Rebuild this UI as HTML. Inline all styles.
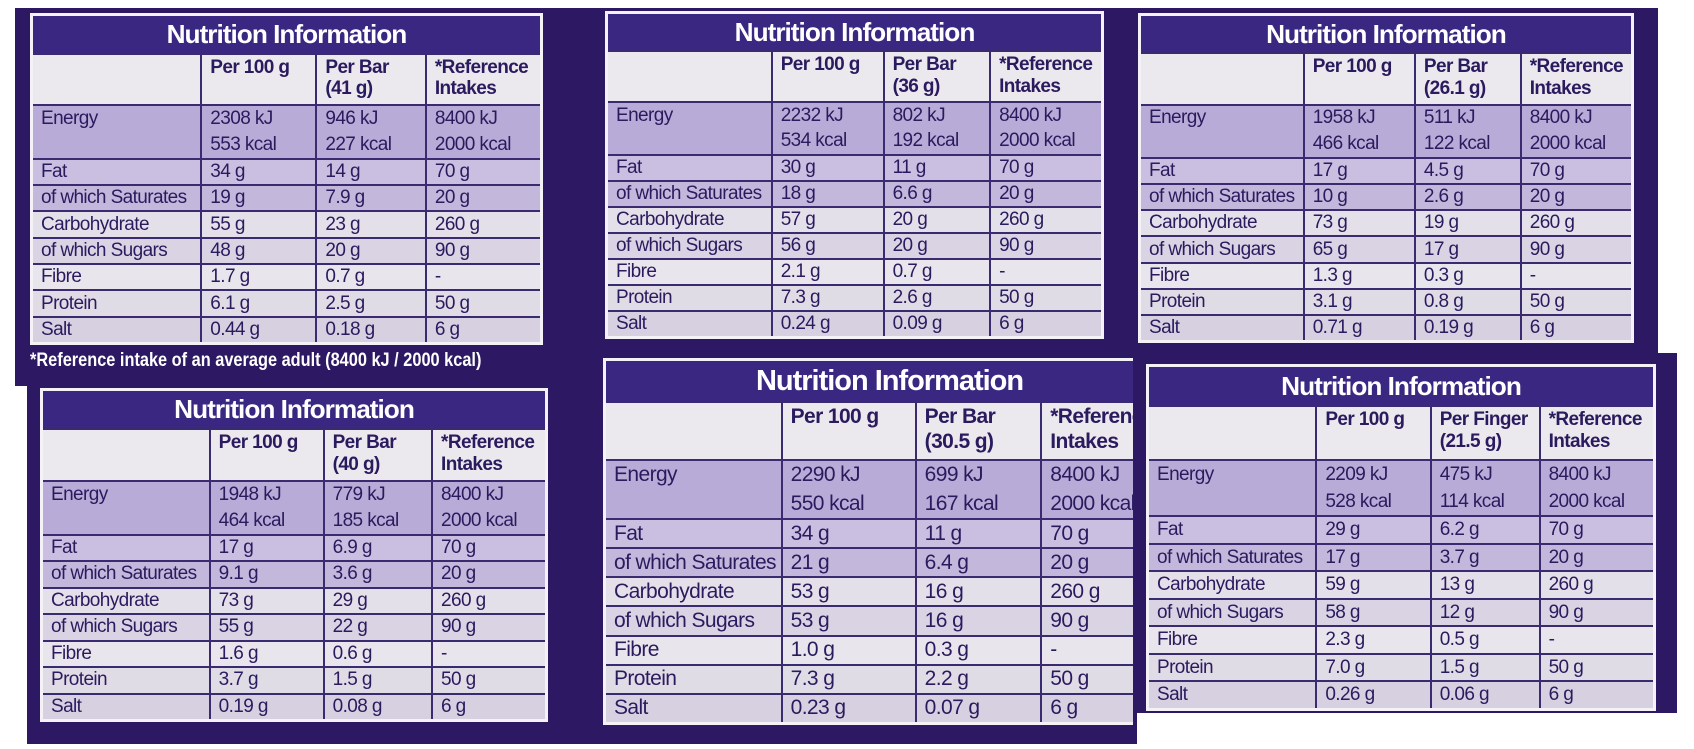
<!DOCTYPE html>
<html><head><meta charset="utf-8"><style>
html,body{margin:0;padding:0;background:#fff;}
body{width:1694px;height:749px;position:relative;overflow:hidden;font-family:"Liberation Sans Narrow","Liberation Sans",sans-serif;}
.bg{position:absolute;background:#2c1863;}
.t{position:absolute;background:#f4f2f6;border:3px solid #f4f2f6;box-sizing:border-box;display:grid;
grid-template-columns:33% 22.7% 21.6% 22.7%;grid-template-rows:34fr 48fr 50fr repeat(7,24.5fr);color:#2a1a5e;font-size:var(--fs);letter-spacing:-0.6px;}
.t>div{box-sizing:border-box;padding-left:8px;border-top:2px solid #3a2a70;overflow:hidden;white-space:nowrap;line-height:1.15;display:flex;align-items:center;}
.t>div.c{border-left:2px solid #3a2a70;}
.t>.ti{grid-column:1/5;background:#3a2782;color:#fff;font-weight:bold;justify-content:center;font-size:calc(var(--fs)*1.38);border-top:none;padding:0;letter-spacing:-1px;}
.t>.h{background:#ebe9ee;align-items:flex-start;padding-top:2px;font-weight:bold;white-space:normal;}
.t>.e{background:#b9abd7;flex-direction:column;align-items:flex-start;justify-content:space-around;}
.t>.l{background:#cabfe1;}
.t>.s{background:#c3b7dc;}
.t>.g{background:#e4e0ea;}
.t>.m{background:#d9d3e4;}
.t>.w{background:#e8e5ec;}
.t>.p{background:#e0dce6;}
.t>.x{background:#d6d0e1;}
.fn{position:absolute;color:#fff;font-weight:bold;font-size:19px;white-space:nowrap;transform:scaleX(0.86);transform-origin:0 0;}
</style></head><body>
<div class="bg" style="left:15px;top:8px;width:1643px;height:350px;"></div>
<div class="bg" style="left:15px;top:350px;width:580px;height:36px;"></div>
<div class="bg" style="left:27px;top:380px;width:1110px;height:364px;"></div>
<div class="bg" style="left:590px;top:353px;width:545px;height:391px;"></div>
<div class="bg" style="left:1130px;top:353px;width:547px;height:360px;"></div>

<div class="t" style="left:30px;top:13px;width:513px;height:332px;--fs:19px;">
<div class="ti">Nutrition Information</div>
<div class="h"></div><div class="h c">Per 100 g</div><div class="h c">Per Bar<br>(41 g)</div><div class="h c">*Reference<br>Intakes</div>
<div class="e">Energy<span>&nbsp;</span></div><div class="e c"><span>2308 kJ</span><span>553 kcal</span></div><div class="e c"><span>946 kJ</span><span>227 kcal</span></div><div class="e c"><span>8400 kJ</span><span>2000 kcal</span></div>
<div class="l">Fat</div><div class="l c">34 g</div><div class="l c">14 g</div><div class="l c">70 g</div>
<div class="s">of which Saturates</div><div class="s c">19 g</div><div class="s c">7.9 g</div><div class="s c">20 g</div>
<div class="g">Carbohydrate</div><div class="g c">55 g</div><div class="g c">23 g</div><div class="g c">260 g</div>
<div class="m">of which Sugars</div><div class="m c">48 g</div><div class="m c">20 g</div><div class="m c">90 g</div>
<div class="w">Fibre</div><div class="w c">1.7 g</div><div class="w c">0.7 g</div><div class="w c">-</div>
<div class="p">Protein</div><div class="p c">6.1 g</div><div class="p c">2.5 g</div><div class="p c">50 g</div>
<div class="x">Salt</div><div class="x c">0.44 g</div><div class="x c">0.18 g</div><div class="x c">6 g</div>
</div>
<div class="fn" style="left:30px;top:350px;">*Reference intake of an average adult (8400 kJ / 2000 kcal)</div>

<div class="t" style="left:605px;top:11px;width:499px;height:328px;--fs:19px;">
<div class="ti">Nutrition Information</div>
<div class="h"></div><div class="h c">Per 100 g</div><div class="h c">Per Bar<br>(36 g)</div><div class="h c">*Reference<br>Intakes</div>
<div class="e">Energy<span>&nbsp;</span></div><div class="e c"><span>2232 kJ</span><span>534 kcal</span></div><div class="e c"><span>802 kJ</span><span>192 kcal</span></div><div class="e c"><span>8400 kJ</span><span>2000 kcal</span></div>
<div class="l">Fat</div><div class="l c">30 g</div><div class="l c">11 g</div><div class="l c">70 g</div>
<div class="s">of which Saturates</div><div class="s c">18 g</div><div class="s c">6.6 g</div><div class="s c">20 g</div>
<div class="g">Carbohydrate</div><div class="g c">57 g</div><div class="g c">20 g</div><div class="g c">260 g</div>
<div class="m">of which Sugars</div><div class="m c">56 g</div><div class="m c">20 g</div><div class="m c">90 g</div>
<div class="w">Fibre</div><div class="w c">2.1 g</div><div class="w c">0.7 g</div><div class="w c">-</div>
<div class="p">Protein</div><div class="p c">7.3 g</div><div class="p c">2.6 g</div><div class="p c">50 g</div>
<div class="x">Salt</div><div class="x c">0.24 g</div><div class="x c">0.09 g</div><div class="x c">6 g</div>
</div>

<div class="t" style="left:1138px;top:13px;width:496px;height:330px;--fs:19px;">
<div class="ti">Nutrition Information</div>
<div class="h"></div><div class="h c">Per 100 g</div><div class="h c">Per Bar<br>(26.1 g)</div><div class="h c">*Reference<br>Intakes</div>
<div class="e">Energy<span>&nbsp;</span></div><div class="e c"><span>1958 kJ</span><span>466 kcal</span></div><div class="e c"><span>511 kJ</span><span>122 kcal</span></div><div class="e c"><span>8400 kJ</span><span>2000 kcal</span></div>
<div class="l">Fat</div><div class="l c">17 g</div><div class="l c">4.5 g</div><div class="l c">70 g</div>
<div class="s">of which Saturates</div><div class="s c">10 g</div><div class="s c">2.6 g</div><div class="s c">20 g</div>
<div class="g">Carbohydrate</div><div class="g c">73 g</div><div class="g c">19 g</div><div class="g c">260 g</div>
<div class="m">of which Sugars</div><div class="m c">65 g</div><div class="m c">17 g</div><div class="m c">90 g</div>
<div class="w">Fibre</div><div class="w c">1.3 g</div><div class="w c">0.3 g</div><div class="w c">-</div>
<div class="p">Protein</div><div class="p c">3.1 g</div><div class="p c">0.8 g</div><div class="p c">50 g</div>
<div class="x">Salt</div><div class="x c">0.71 g</div><div class="x c">0.19 g</div><div class="x c">6 g</div>
</div>

<div class="t" style="left:40px;top:388px;width:508px;height:334px;--fs:19px;">
<div class="ti">Nutrition Information</div>
<div class="h"></div><div class="h c">Per 100 g</div><div class="h c">Per Bar<br>(40 g)</div><div class="h c">*Reference<br>Intakes</div>
<div class="e">Energy<span>&nbsp;</span></div><div class="e c"><span>1948 kJ</span><span>464 kcal</span></div><div class="e c"><span>779 kJ</span><span>185 kcal</span></div><div class="e c"><span>8400 kJ</span><span>2000 kcal</span></div>
<div class="l">Fat</div><div class="l c">17 g</div><div class="l c">6.9 g</div><div class="l c">70 g</div>
<div class="s">of which Saturates</div><div class="s c">9.1 g</div><div class="s c">3.6 g</div><div class="s c">20 g</div>
<div class="g">Carbohydrate</div><div class="g c">73 g</div><div class="g c">29 g</div><div class="g c">260 g</div>
<div class="m">of which Sugars</div><div class="m c">55 g</div><div class="m c">22 g</div><div class="m c">90 g</div>
<div class="w">Fibre</div><div class="w c">1.6 g</div><div class="w c">0.6 g</div><div class="w c">-</div>
<div class="p">Protein</div><div class="p c">3.7 g</div><div class="p c">1.5 g</div><div class="p c">50 g</div>
<div class="x">Salt</div><div class="x c">0.19 g</div><div class="x c">0.08 g</div><div class="x c">6 g</div>
</div>

<div style="position:absolute;left:603px;top:358px;width:530px;height:367px;overflow:hidden;">
<div class="t" style="left:0;top:0;width:660px;height:367px;--fs:21px;grid-template-columns:26.7% 20.5% 19.2% 33.6%;">
<div class="ti" style="justify-content:flex-start;padding-left:150px;">Nutrition Information</div>
<div class="h"></div><div class="h c">Per 100 g</div><div class="h c">Per Bar<br>(30.5 g)</div><div class="h c">*Reference<br>Intakes</div>
<div class="e">Energy<span>&nbsp;</span></div><div class="e c"><span>2290 kJ</span><span>550 kcal</span></div><div class="e c"><span>699 kJ</span><span>167 kcal</span></div><div class="e c"><span>8400 kJ</span><span>2000 kcal</span></div>
<div class="l">Fat</div><div class="l c">34 g</div><div class="l c">11 g</div><div class="l c">70 g</div>
<div class="s">of which Saturates</div><div class="s c">21 g</div><div class="s c">6.4 g</div><div class="s c">20 g</div>
<div class="g">Carbohydrate</div><div class="g c">53 g</div><div class="g c">16 g</div><div class="g c">260 g</div>
<div class="m">of which Sugars</div><div class="m c">53 g</div><div class="m c">16 g</div><div class="m c">90 g</div>
<div class="w">Fibre</div><div class="w c">1.0 g</div><div class="w c">0.3 g</div><div class="w c">-</div>
<div class="p">Protein</div><div class="p c">7.3 g</div><div class="p c">2.2 g</div><div class="p c">50 g</div>
<div class="x">Salt</div><div class="x c">0.23 g</div><div class="x c">0.07 g</div><div class="x c">6 g</div>
</div></div>

<div class="t" style="left:1146px;top:364px;width:510px;height:347px;--fs:19px;">
<div class="ti">Nutrition Information</div>
<div class="h"></div><div class="h c">Per 100 g</div><div class="h c">Per Finger<br>(21.5 g)</div><div class="h c">*Reference<br>Intakes</div>
<div class="e">Energy<span>&nbsp;</span></div><div class="e c"><span>2209 kJ</span><span>528 kcal</span></div><div class="e c"><span>475 kJ</span><span>114 kcal</span></div><div class="e c"><span>8400 kJ</span><span>2000 kcal</span></div>
<div class="l">Fat</div><div class="l c">29 g</div><div class="l c">6.2 g</div><div class="l c">70 g</div>
<div class="s">of which Saturates</div><div class="s c">17 g</div><div class="s c">3.7 g</div><div class="s c">20 g</div>
<div class="g">Carbohydrate</div><div class="g c">59 g</div><div class="g c">13 g</div><div class="g c">260 g</div>
<div class="m">of which Sugars</div><div class="m c">58 g</div><div class="m c">12 g</div><div class="m c">90 g</div>
<div class="w">Fibre</div><div class="w c">2.3 g</div><div class="w c">0.5 g</div><div class="w c">-</div>
<div class="p">Protein</div><div class="p c">7.0 g</div><div class="p c">1.5 g</div><div class="p c">50 g</div>
<div class="x">Salt</div><div class="x c">0.26 g</div><div class="x c">0.06 g</div><div class="x c">6 g</div>
</div>
</body></html>
